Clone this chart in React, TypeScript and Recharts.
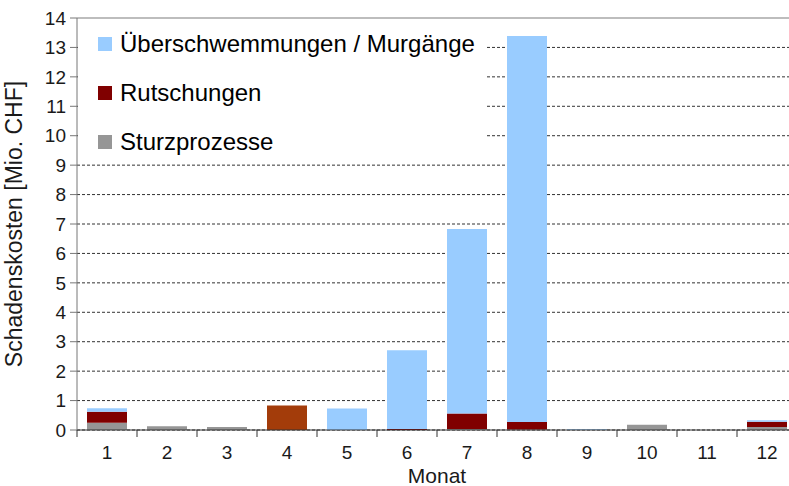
import { BarChart, Bar, XAxis, YAxis, CartesianGrid, Legend, ReferenceLine, Cell } from 'recharts'

const months = ['1', '2', '3', '4', '5', '6', '7', '8', '9', '10', '11', '12']
const sturzprozesse = [0.25, 0.13, 0.1, 0, 0, 0, 0.03, 0.02, 0.01, 0.18, 0, 0.1]
const rutschungen = [0.37, 0, 0, 0.83, 0, 0.03, 0.53, 0.25, 0, 0, 0, 0.18]
const ueberschwemmungen = [0.12, 0, 0, 0, 0.73, 2.68, 6.27, 13.12, 0.02, 0, 0, 0.05]
const yTicks = [0, 1, 2, 3, 4, 5, 6, 7, 8, 9, 10, 11, 12, 13, 14]

const data = months.map((m, i) => ({
  month: m,
  sturz: sturzprozesse[i],
  rutsch: rutschungen[i],
  ueber: ueberschwemmungen[i],
}))

const series = [
  { key: 'ueber', name: 'Überschwemmungen / Murgänge', color: '#99CCFF' },
  { key: 'rutsch', name: 'Rutschungen', color: '#800000' },
  { key: 'sturz', name: 'Sturzprozesse', color: '#969696' },
]

const FONT = '"Liberation Sans", Arial, sans-serif'
const HALF_BAND = 30

// Excel-style ticks between the categories
const MonthTick = (props: any) => {
  const { x, y, payload, index } = props
  return (
    <g>
      <line x1={x + HALF_BAND} x2={x + HALF_BAND} y1={y} y2={y + 7} stroke="#333" />
      {index === 0 && <line x1={x - HALF_BAND} x2={x - HALF_BAND} y1={y} y2={y + 7} stroke="#333" />}
      <text x={x} y={y + 29} textAnchor="middle" fontSize={19} fill="#1a1a1a" fontFamily={FONT}>
        {payload.value}
      </text>
    </g>
  )
}

const LegendBox = () => (
  <div style={{ background: '#fff', width: 407, height: 136, fontFamily: FONT, position: 'relative' }}>
    {series.map((s, i) => (
      <div key={s.key} style={{ position: 'absolute', left: 20, top: 11 + i * 49, display: 'flex', alignItems: 'center' }}>
        <span style={{ width: 14, height: 14, background: s.color, display: 'inline-block', marginRight: 8 }} />
        <span style={{ fontSize: 24, color: '#000', lineHeight: '28px', whiteSpace: 'nowrap' }}>{s.name}</span>
      </div>
    ))}
  </div>
)

export default function App() {
  return (
    <div style={{ position: 'absolute', left: 0, top: 0, width: 789, height: 486, overflow: 'hidden', background: '#fff' }}>
      <BarChart width={802} height={486} data={data} margin={{ top: 18, right: 5, left: 0, bottom: 0 }}>
        <CartesianGrid vertical={false} stroke="#333" strokeDasharray="3 2" />
        <ReferenceLine y={14} stroke="#bdbdbd" strokeWidth={2} />
        <XAxis
          dataKey="month"
          height={56}
          stroke="#333"
          tickLine={false}
          tickSize={0}
          tickMargin={0}
          tick={<MonthTick />}
          interval={0}
          label={{ value: 'Monat', position: 'insideBottom', offset: 3, fontSize: 21, fill: '#1a1a1a', fontFamily: FONT }}
        />
        <YAxis
          width={77}
          domain={[0, 14]}
          ticks={yTicks}
          interval={0}
          stroke="#777"
          tickSize={7}
          tickMargin={4}
          tick={{ fontSize: 19, fill: '#1a1a1a', fontFamily: FONT }}
          label={{
            value: 'Schadenskosten [Mio. CHF]',
            angle: -90,
            position: 'insideLeft',
            offset: 14,
            style: { textAnchor: 'middle', fontSize: 23, fill: '#1a1a1a', fontFamily: FONT },
          }}
        />
        <Legend
          layout="horizontal"
          verticalAlign="middle"
          align="center"
          content={<LegendBox />}
          wrapperStyle={{ top: 19, left: 78, width: 407, height: 136 }}
        />
        <Bar dataKey="sturz" name="Sturzprozesse" stackId="a" fill="#969696" barSize={40} isAnimationActive={false} />
        <Bar dataKey="rutsch" name="Rutschungen" stackId="a" fill="#800000" barSize={40} isAnimationActive={false}>
          {data.map((d, i) => (
            <Cell key={d.month} fill={i === 3 ? '#A33C0A' : '#800000'} />
          ))}
        </Bar>
        <Bar dataKey="ueber" name="Überschwemmungen / Murgänge" stackId="a" fill="#99CCFF" barSize={40} isAnimationActive={false} />
      </BarChart>
    </div>
  )
}
